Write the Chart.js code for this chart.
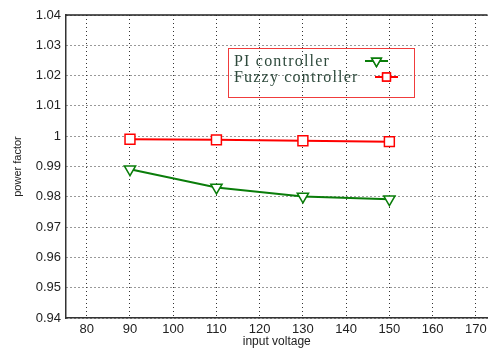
<!DOCTYPE html>
<html>
<head>
<meta charset="utf-8">
<script src="https://cdn.jsdelivr.net/npm/chart.js@4/dist/chart.umd.min.js"></script>
<style>
  html, body { margin: 0; padding: 0; background: #fff; }
  #wrap { width: 496px; height: 349px; }
</style>
</head>
<body>
<div id="wrap"><canvas id="pfChart" width="496" height="349"></canvas></div>
<script>
const voltages = [90, 110, 130, 150];
const piValues = [0.9891, 0.9831, 0.9801, 0.9792];
const fuzzyValues = [0.9990, 0.9988, 0.9985, 0.9982];
const seriesNames = ["PI controller", "Fuzzy controller"];
const xTicks = [80, 90, 100, 110, 120, 130, 140, 150, 160, 170];
const yTicks = [0.94, 0.95, 0.96, 0.97, 0.98, 0.99, 1, 1.01, 1.02, 1.03, 1.04];

const GREEN = "#0a7d0a";
const RED = "#ff0000";

function toPoints(values) {
  return voltages.map((v, i) => ({ x: v, y: values[i] }));
}

// legend box drawn like the matlab one: text on the left, line sample on the right
const boxLegend = {
  id: "boxLegend",
  afterDraw(chart) {
    const ctx = chart.ctx;
    ctx.save();
    ctx.strokeStyle = "#f03c3c";
    ctx.lineWidth = 1;
    ctx.strokeRect(228.5, 48.5, 186, 49);

    ctx.font = "16px 'Liberation Serif', 'DejaVu Serif', serif";
    ctx.letterSpacing = "1.2px";
    ctx.fillStyle = "#2e4a3c";
    ctx.textBaseline = "alphabetic";
    ctx.fillText(seriesNames[0], 234, 66);
    ctx.fillText(seriesNames[1], 234, 82);

    const samples = [
      { x0: 365, x1: 388, y: 61, color: GREEN, style: "triangle", rot: 180, r: 5.5 },
      { x0: 375, x1: 398, y: 77, color: RED, style: "rect", rot: 0, r: 5.5 }
    ];
    samples.forEach((s) => {
      ctx.strokeStyle = s.color;
      ctx.lineWidth = 2;
      ctx.beginPath();
      ctx.moveTo(s.x0, s.y);
      ctx.lineTo(s.x1, s.y);
      ctx.stroke();
      ctx.fillStyle = "#fff";
      ctx.lineWidth = 1.5;
      Chart.helpers.drawPoint(ctx, { pointStyle: s.style, radius: s.r, rotation: s.rot, borderWidth: 1.5 },
        (s.x0 + s.x1) / 2, s.y);
      ctx.fill();
      ctx.stroke();
    });

    // top frame line
    const a = chart.chartArea;
    ctx.strokeStyle = "#222";
    ctx.lineWidth = 1.5;
    ctx.beginPath();
    ctx.moveTo(a.left, a.top);
    ctx.lineTo(a.right, a.top);
    ctx.stroke();
    ctx.restore();
  }
};

const ctx = document.getElementById("pfChart").getContext("2d");

new Chart(ctx, {
  type: "line",
  data: {
    datasets: [
      {
        label: seriesNames[0],
        data: toPoints(piValues),
        borderColor: GREEN,
        backgroundColor: "#fff",
        borderWidth: 2,
        pointStyle: "triangle",
        rotation: 180,
        pointRadius: 6.5,
        pointBorderWidth: 1.5,
        tension: 0
      },
      {
        label: seriesNames[1],
        data: toPoints(fuzzyValues),
        borderColor: RED,
        backgroundColor: "#fff",
        borderWidth: 2,
        pointStyle: "rect",
        pointRadius: 7,
        pointBorderWidth: 1.5,
        tension: 0
      }
    ]
  },
  options: {
    responsive: false,
    animation: false,
    layout: { padding: { top: 15, right: 0, left: 11, bottom: 0 } },
    plugins: {
      legend: { display: false },
      tooltip: { enabled: false }
    },
    scales: {
      x: {
        type: "linear",
        min: 75.2,
        max: 172.7,
        afterBuildTicks(scale) {
          scale.ticks = xTicks.map((v) => ({ value: v }));
        },
        afterFit(scale) {
          scale.height = 31;
        },
        grid: {
          color: "#333",
          lineWidth: 1,
          drawTicks: false
        },
        border: { display: true, color: "#333", width: 1.5, dash: [1, 3] },
        ticks: {
          color: "#222",
          padding: 4,
          font: { family: "'Liberation Sans', Arial, sans-serif", size: 13 },
          maxRotation: 0,
          callback: (v) => String(v)
        },
        title: {
          display: true,
          text: "input voltage",
          color: "#222",
          padding: { top: 0, bottom: 0 },
          font: { family: "'Liberation Sans', Arial, sans-serif", size: 12 }
        }
      },
      y: {
        min: 0.94,
        max: 1.04,
        afterBuildTicks(scale) {
          scale.ticks = yTicks.map((v) => ({ value: v }));
        },
        afterFit(scale) {
          scale.width = 55;
        },
        grid: {
          color: "#333",
          lineWidth: 1,
          drawTicks: false
        },
        border: { display: true, color: "#333", width: 1.5, dash: [1, 3] },
        ticks: {
          color: "#222",
          padding: 5,
          font: { family: "'Liberation Sans', Arial, sans-serif", size: 13 },
          callback: (v) => String(Number(v.toFixed(2)))
        },
        title: {
          display: true,
          text: "power factor",
          color: "#222",
          padding: 0,
          font: { family: "'Liberation Sans', Arial, sans-serif", size: 11 }
        }
      }
    }
  },
  plugins: [boxLegend]
});
</script>
</body>
</html>
